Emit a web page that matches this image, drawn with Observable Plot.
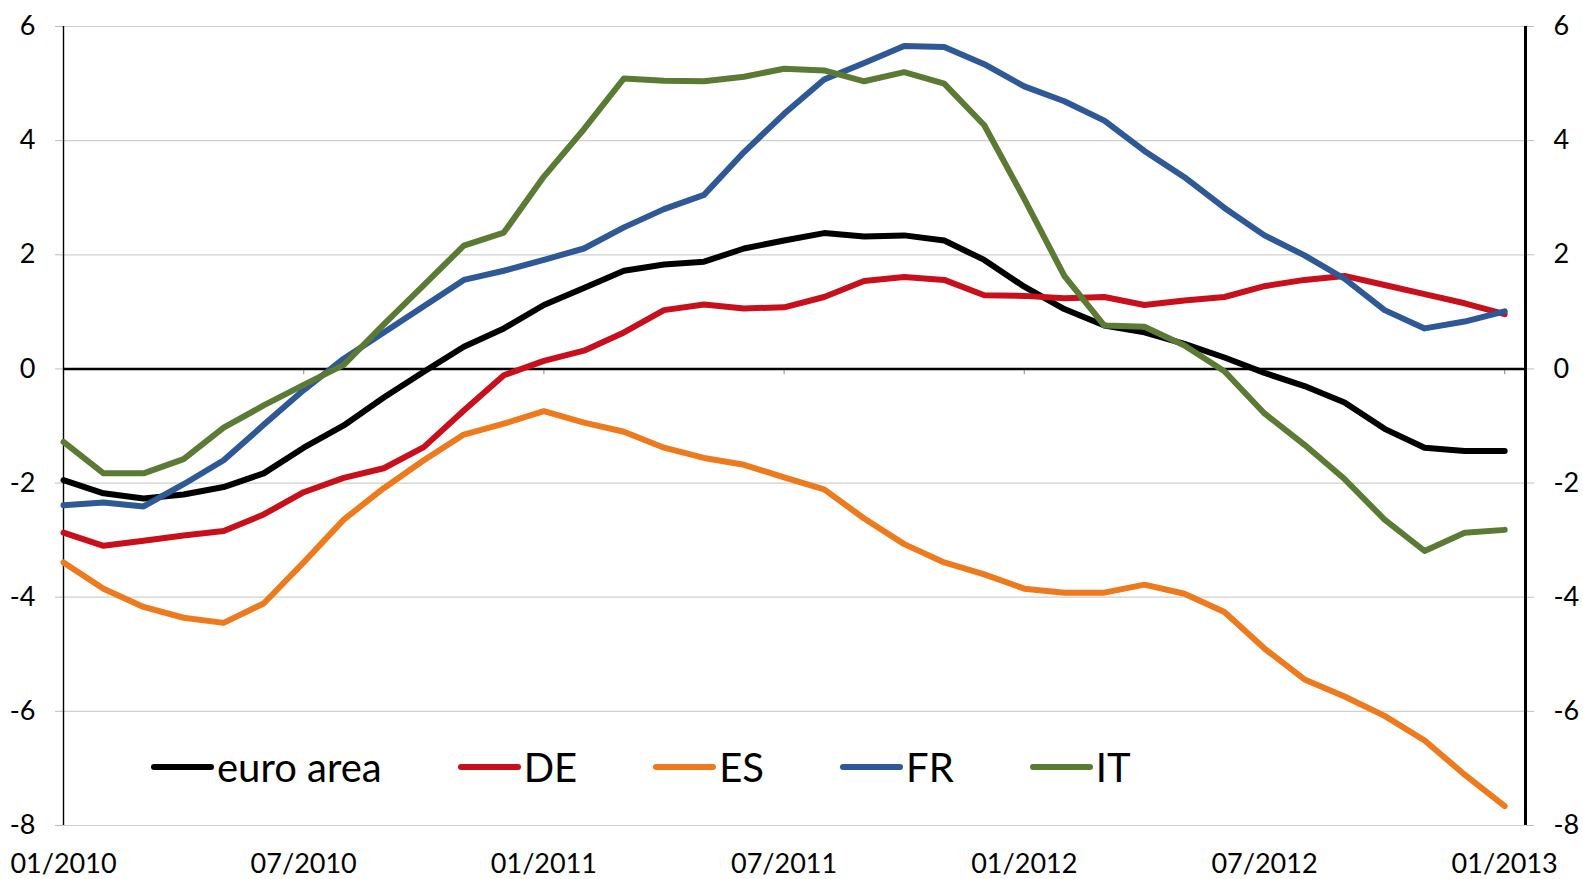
<!DOCTYPE html>
<html>
<head>
<meta charset="utf-8">
<script src="https://cdn.jsdelivr.net/npm/d3@7"></script>
<script src="https://cdn.jsdelivr.net/npm/@observablehq/plot@0.6"></script>
<style>
  html, body { margin: 0; padding: 0; background: #fff; }
  #wrap { position: relative; width: 1583px; height: 879px; }
  #legend { position: absolute; left: 151px; top: 743px; display: flex; gap: 76px; align-items: center;
            font-family: Lato, "Open Sans", sans-serif; font-size: 40px; color: #000; white-space: nowrap; }
  .item { display: flex; align-items: center; }
  .swatch { width: 63px; height: 5.5px; border-radius: 3px; margin-right: 3px; }
</style>
</head>
<body>
<div id="wrap"><div id="legend"></div></div>
<script>
// Month index 0 = 01/2010 ... 36 = 01/2013
const series = ["euro area", "DE", "ES", "FR", "IT"];
const colors = ["#000000", "#c8101c", "#ee7a1e", "#2e5896", "#5b7a33"];
const tickMonths = [0, 6, 12, 18, 24, 30, 36];
const tickLabels = ["01/2010", "07/2010", "01/2011", "07/2011", "01/2012", "07/2012", "01/2013"];
const yTicks = [-8, -6, -4, -2, 0, 2, 4, 6];

const euroArea = [-1.95, -2.18, -2.27, -2.2, -2.07, -1.83, -1.38, -0.99, -0.5, -0.05, 0.39, 0.71, 1.12,
  1.42, 1.72, 1.83, 1.88, 2.11, 2.25, 2.38, 2.32, 2.34, 2.25, 1.91, 1.44, 1.05, 0.76, 0.64, 0.44, 0.2,
  -0.07, -0.3, -0.59, -1.05, -1.38, -1.44, -1.44];
const de = [-2.87, -3.1, -3.01, -2.92, -2.84, -2.55, -2.16, -1.91, -1.74, -1.37, -0.73, -0.11, 0.14,
  0.32, 0.64, 1.03, 1.13, 1.06, 1.08, 1.26, 1.54, 1.61, 1.56, 1.29, 1.28, 1.24, 1.26, 1.12, 1.2, 1.26,
  1.45, 1.56, 1.63, 1.47, 1.31, 1.15, 0.96];
const es = [-3.39, -3.85, -4.17, -4.36, -4.45, -4.11, -3.39, -2.64, -2.09, -1.6, -1.15, -0.96, -0.74,
  -0.94, -1.1, -1.38, -1.56, -1.68, -1.9, -2.11, -2.62, -3.07, -3.39, -3.6, -3.85, -3.92, -3.92, -3.78,
  -3.94, -4.26, -4.9, -5.44, -5.74, -6.08, -6.51, -7.11, -7.66];
const fr = [-2.39, -2.34, -2.41, -2.02, -1.6, -0.98, -0.37, 0.18, 0.64, 1.1, 1.56, 1.72, 1.91,
  2.11, 2.48, 2.8, 3.05, 3.8, 4.47, 5.07, 5.36, 5.66, 5.64, 5.34, 4.95, 4.69, 4.35, 3.82, 3.36, 2.82,
  2.34, 1.99, 1.58, 1.03, 0.71, 0.83, 1.01];
const it = [-1.28, -1.83, -1.83, -1.58, -1.03, -0.64, -0.28, 0.07, 0.78, 1.47, 2.16, 2.39, 3.37,
  4.2, 5.09, 5.05, 5.04, 5.12, 5.26, 5.23, 5.04, 5.2, 5.0, 4.27, 2.98, 1.63, 0.76, 0.74, 0.41, -0.04,
  -0.78, -1.33, -1.93, -2.64, -3.19, -2.87, -2.82];

const values = [euroArea, de, es, fr, it];
const rows = [];
series.forEach((s, k) => values[k].forEach((v, i) => rows.push({series: s, month: i, value: v})));

const xMax = 36.52;

const chart = Plot.plot({
  width: 1583,
  height: 879,
  marginLeft: 63,
  marginRight: 58,
  marginTop: 26,
  marginBottom: 54,
  style: {fontFamily: "Lato, 'Open Sans', sans-serif", fontSize: "27px", color: "#000", background: "#fff", overflow: "visible"},
  x: {domain: [0, xMax]},
  y: {domain: [-8, 6]},
  color: {domain: series, range: colors},
  marks: [
    Plot.ruleY(yTicks, {x1: 0, x2: xMax, stroke: "#cfcfcf", strokeWidth: 1.2}),
    Plot.axisY({anchor: "left", ticks: yTicks, tickSize: 8, tickPadding: 20, stroke: "#bdbdbd",
      tickFormat: d => String(d), label: null}),
    Plot.axisY({anchor: "right", ticks: yTicks, tickSize: 8, tickPadding: 20, stroke: "#bdbdbd",
      tickFormat: d => String(d), label: null}),
    Plot.axisX({ticks: tickMonths, tickSize: 0, tickPadding: 28,
      tickFormat: d => tickLabels[tickMonths.indexOf(d)], label: null}),
    Plot.ruleX(tickMonths, {y1: 0, y2: -0.1, stroke: "#9a9a9a", strokeWidth: 1.2}),
    Plot.ruleY([0], {x1: 0, x2: xMax, stroke: "#000", strokeWidth: 2.6}),
    Plot.ruleX([0], {y1: -8, y2: 6, stroke: "#000", strokeWidth: 1.4}),
    Plot.ruleX([xMax], {y1: -8, y2: 6, stroke: "#000", strokeWidth: 3}),
    Plot.line(rows, {x: "month", y: "value", z: "series", stroke: "series", strokeWidth: 6,
      strokeLinejoin: "round", strokeLinecap: "round"})
  ]
});

const wrap = document.getElementById("wrap");
wrap.insertBefore(chart, wrap.firstChild);

const legend = document.getElementById("legend");
series.forEach((s, k) => {
  const item = document.createElement("div");
  item.className = "item";
  const sw = document.createElement("div");
  sw.className = "swatch";
  sw.style.background = colors[k];
  const t = document.createElement("span");
  t.textContent = s;
  item.appendChild(sw);
  item.appendChild(t);
  legend.appendChild(item);
});
</script>
</body>
</html>
